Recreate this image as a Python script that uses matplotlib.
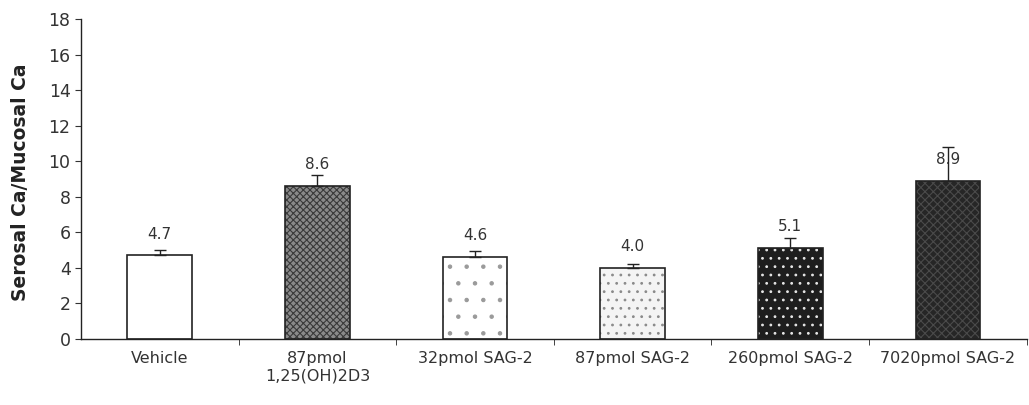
import numpy as np
import matplotlib
matplotlib.use("Agg")
import matplotlib.pyplot as plt

categories = ["Vehicle", "87pmol\n1,25(OH)2D3", "32pmol SAG-2",
              "87pmol SAG-2", "260pmol SAG-2", "7020pmol SAG-2"]
values = [4.7, 8.6, 4.6, 4.0, 5.1, 8.9]
errors = [0.3, 0.65, 0.35, 0.2, 0.6, 1.9]
value_labels = ["4.7", "8.6", "4.6", "4.0", "5.1", "8.9"]

# fill / hatch per bar (to mimic the scanned patterns)
fills = ["white", "#8a8a8a", "white", "#f4f4f4", "#1e1e1e", "#262626"]
hatches = [None, "xxxxx", ".", "..", "..", "xxxx"]
hatch_cols = ["white", "#3a3a3a", "#9a9a9a", "#8a8a8a", "#e6e6e6", "#4a4a4a"]

plt.rcParams["font.family"] = ["DejaVu Sans"]
plt.rcParams["hatch.linewidth"] = 0.8

fig = plt.figure(figsize=(10.29, 4.05), dpi=100)
ax = fig.add_axes([0.0787, 0.163, 0.919, 0.79])

x = np.arange(len(categories))
w = 0.41
ax.bar(x, values, width=w, color=fills, edgecolor=hatch_cols,
       hatch=hatches, linewidth=0, zorder=2)
ax.bar(x, values, width=w, fill=False, edgecolor="#222222",
       linewidth=1.2, zorder=3)
ax.errorbar(x, values, yerr=[np.zeros(len(values)), errors], fmt="none",
            ecolor="#222222", elinewidth=1.0, capsize=4, capthick=1.0,
            zorder=4)

for xi, v, lab in zip(x, values, value_labels):
    ax.annotate(lab, (xi, v), xytext=(0, 10), textcoords="offset points",
                ha="center", va="bottom", fontsize=11, color="#333333")

ax.set_xlim(-0.5, len(categories) - 0.5)
ax.set_ylim(0, 18)
ax.set_yticks(range(0, 19, 2))
ax.tick_params(axis="y", labelsize=12.5, length=4, direction="out",
               colors="#333333")
ax.set_xticks(x)
ax.set_xticklabels(categories, fontsize=11.5, color="#333333")
ax.tick_params(axis="x", length=0, pad=9)
ax.set_xticks(np.arange(0.5, len(categories), 1), minor=True)
ax.tick_params(axis="x", which="minor", length=4, direction="out",
               color="#222222")

for s in ["top", "right"]:
    ax.spines[s].set_visible(False)
for s in ["left", "bottom"]:
    ax.spines[s].set_color("#222222")
    ax.spines[s].set_linewidth(1.0)

ax.set_ylabel("Serosal Ca/Mucosal Ca", fontsize=13.5, fontweight="bold",
              color="#222222")
ax.yaxis.set_label_coords(-0.054, 0.49)

fig.savefig("out.png", dpi=100)
